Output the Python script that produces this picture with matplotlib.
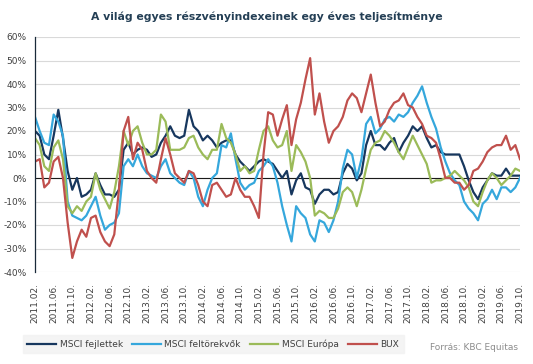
import matplotlib
matplotlib.use("Agg")
import matplotlib.pyplot as plt
import numpy as np

# havi értékek, 2011.02 - 2019.10 (%)
msci_fejlett = [20, 18, 10, 8, 18, 29, 17, 3, -5, 0, -8, -7, -5, 2, -3, -7, -7, -8, -5, 12,
                15, 10, 12, 13, 12, 9, 10, 15, 18, 22, 18, 17, 18, 29, 22, 20, 16, 18, 16, 13,
                15, 16, 16, 10, 7, 5, 3, 5, 7, 8, 7, 6, 3, 0, 3, -7, -1, 2, -4, -5,
                -11, -7, -5, -5, -7, -6, 2, 6, 4, -1, 2, 14, 20, 14, 14, 12, 15, 17, 11, 15,
                18, 22, 20, 22, 17, 13, 14, 11, 10, 10, 10, 10, 5, -1, -6, -9, -4, -1, 2, 1,
                1, 4, 1, 1, 1]
msci_feltorekvo = [26, 20, 15, 14, 27, 24, 18, -10, -16, -17, -18, -16, -12, -8, -16, -22, -20, -19, -15, 5,
                   8, 5, 10, 5, 2, 1, 0, 5, 8, 2, 0, -2, -3, 3, 0, -8, -12, -5, 0, 2,
                   14, 13, 19, 8, -2, -5, -3, -2, 3, 5, 8, 5, -2, -12, -20, -27, -12, -15, -17, -24,
                   -27, -18, -19, -23, -18, -10, 4, 12, 10, 0, 8, 23, 26, 19, 21, 25, 26, 24, 27, 26,
                   28, 32, 35, 39, 32, 26, 21, 13, 7, 2, -1, -3, -10, -13, -15, -18, -11, -9, -5, -9,
                   -4, -4, -6, -4, 0]
msci_europa = [17, 14, 5, 3, 13, 16, 8, -12, -15, -12, -14, -10, -8, 2, -5, -9, -13, -6, 5, 20,
               14, 20, 22, 15, 10, 10, 12, 27, 24, 12, 12, 12, 13, 17, 18, 13, 10, 8, 12, 12,
               23, 17, 15, 10, 3, 5, 2, 3, 12, 20, 22, 16, 13, 14, 20, 3, 14, 11, 7, 0,
               -16, -14, -15, -17, -17, -13, -6, -4, -6, -12, -5, 4, 12, 15, 16, 20, 18, 15, 11, 8,
               13, 18, 14, 10, 6, -2, -1, -1, 0, 1, 3, 1, -1, -4, -10, -12, -6, -1, 2, 0,
               -3, -1, 1, 4, 3]
bux = [7, 8, -4, -2, 7, 9, 0, -19, -34, -27, -22, -25, -17, -16, -23, -27, -29, -24, -5, 20,
       26, 8, 15, 12, 3, 0, -2, 8, 17, 10, 2, 0, -2, 3, 2, -3, -10, -12, -3, -2,
       -5, -8, -7, 0, -5, -8, -8, -12, -17, 10, 28, 27, 18, 25, 31, 14, 25, 32, 42, 51,
       27, 36, 24, 15, 20, 22, 26, 33, 36, 34, 28, 36, 44, 32, 22, 24, 29, 32, 33, 36,
       31, 30, 26, 23, 18, 17, 15, 8, 0, 0, -2, -2, -5, -3, 3, 4, 7, 11, 13, 14,
       14, 18, 12, 14, 8]

tick_labels = []
for y in range(2011, 2020):
    for mo in ["02", "06", "10"]:
        tick_labels.append("{}.{}.".format(y, mo))

x = np.arange(len(bux))

fig = plt.figure(figsize=(5.33, 3.64), dpi=100)
ax = fig.add_axes([35 / 533, 1 - 272 / 364, 485 / 533, 235 / 364])

ax.plot(x, msci_fejlett, color="#17375e", lw=1.6, label="MSCI fejlettek")
ax.plot(x, msci_feltorekvo, color="#35a7dc", lw=1.6, label="MSCI feltörekvők")
ax.plot(x, msci_europa, color="#9bbb59", lw=1.6, label="MSCI Európa")
ax.plot(x, bux, color="#c0504d", lw=1.6, label="BUX")
ax.axhline(0, color="#1a1a1a", lw=0.8, zorder=1)

ax.set_xlim(0, 104)
ax.set_ylim(-40, 60)
ax.set_yticks(range(-40, 61, 10))
ax.set_yticklabels(["{}%".format(v) for v in range(-40, 61, 10)])
ax.set_xticks(np.arange(0, 105, 4))
ax.set_xticklabels(tick_labels, rotation=90)
ax.tick_params(axis="both", length=0, labelsize=6.5, colors="#404040")
ax.tick_params(axis="x", pad=8)
ax.tick_params(axis="y", pad=6)
ax.grid(axis="y", color="#d9d9d9", lw=0.8)
ax.set_axisbelow(True)
for s in ["top", "right", "bottom"]:
    ax.spines[s].set_visible(False)
ax.spines["left"].set_color("#1a2a3a")
ax.spines["left"].set_linewidth(0.9)

fig.text(0.5, 1 - 17 / 364, "A világ egyes részvényindexeinek egy éves teljesítménye",
         ha="center", va="center", fontsize=7.8, fontweight="bold", color="#243f55")

leg = fig.legend(loc="center left", bbox_to_anchor=(18 / 533, 1 - 344 / 364), ncol=4,
                 fontsize=6.5, frameon=True, fancybox=False, handlelength=3.2,
                 columnspacing=1.0, handletextpad=0.4, borderpad=0.5)
leg.get_frame().set_facecolor("#f2f2f2")
leg.get_frame().set_edgecolor("#f2f2f2")
for t in leg.get_texts():
    t.set_color("#404040")

fig.text(518 / 533, 1 - 347 / 364, "Forrás: KBC Equitas", ha="right", va="center",
         fontsize=6.5, color="#8c8c8c")

fig.savefig("out.png", dpi=100)
